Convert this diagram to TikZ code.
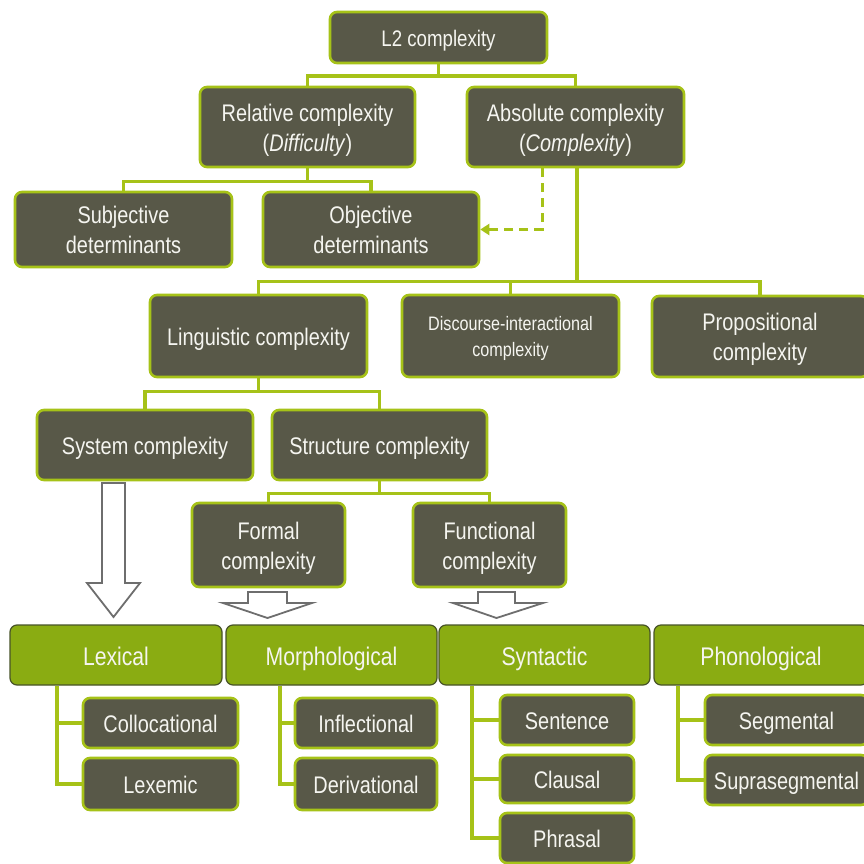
\documentclass[tikz,border=0pt]{standalone}
\usepackage{fontspec}
\newfontfamily\nf{Liberation Sans}[FakeStretch=0.83]
\usetikzlibrary{arrows.meta}
\definecolor{darkbox}{RGB}{88,88,72}
\definecolor{lime}{RGB}{166,194,24}
\definecolor{greenbox}{RGB}{138,172,18}
\definecolor{greenedge}{RGB}{72,84,40}
\definecolor{arrgray}{RGB}{110,110,110}
\definecolor{txt}{RGB}{245,245,240}
\newcommand{\topstrut}{\rule{0pt}{1.07em}}
\newcommand{\botstrut}{\rule[-0.28em]{0pt}{0.28em}}
\newcommand{\bx}[7]{\node[#6, minimum width={#4-#2}, minimum height={#5-#3}] (#1) at ({(#2+#4)/2},{(#3+#5)/2}) {\topstrut#7\botstrut};}
\tikzset{
  dbox/.style={draw=lime, line width=2.6pt, fill=darkbox, rounded corners=7pt, text=txt, align=center, inner sep=0pt, font=\nf\fontsize{24}{30}\selectfont},
  gbox/.style={draw=greenedge, line width=1.2pt, fill=greenbox, rounded corners=7pt, text=txt, align=center, inner sep=0pt, font=\nf\fontsize{25.5}{30}\selectfont},
  conn/.style={draw=lime, line width=3.6pt},
  dasharr/.style={draw=lime, line width=3pt, dash pattern=on 9pt off 6pt, -{Triangle[length=9pt,width=11pt]}},
  blockarr/.style={draw=arrgray, line width=1.8pt, fill=white, line join=miter}
}
\begin{document}
\begin{tikzpicture}[x=1pt,y=-1pt]
\useasboundingbox[fill=white] (0,0) rectangle (864,864);
% boxes
\bx{L2}{330}{12}{547}{63}{dbox,font=\nf\fontsize{22.5}{28}\selectfont}{L2 complexity}
\bx{rel}{200}{87}{415}{167}{dbox}{Relative complexity\\(\textit{Difficulty})}
\bx{abs}{467}{87}{684}{167}{dbox}{Absolute complexity\\(\textit{Complexity})}
\bx{sub}{15}{192}{232}{267}{dbox}{Subjective\\determinants}
\bx{obj}{263}{192}{479}{267}{dbox}{Objective\\determinants}
\bx{ling}{150}{295}{367}{377}{dbox}{Linguistic complexity}
\bx{disc}{402}{295}{619}{377}{dbox,font=\nf\fontsize{19.5}{26}\selectfont}{Discourse-interactional\\complexity}
\bx{prop}{652}{296}{868}{377}{dbox}{Propositional\\complexity}
\bx{sys}{37}{410}{253}{480}{dbox}{System complexity}
\bx{str}{272}{410}{487}{480}{dbox}{Structure complexity}
\bx{form}{192}{503}{345}{587}{dbox}{Formal\\complexity}
\bx{func}{413}{503}{566}{587}{dbox}{Functional\\complexity}
\bx{lex}{10}{625}{222}{685}{gbox}{Lexical}
\bx{mor}{226}{625}{437}{685}{gbox}{Morphological}
\bx{syn}{439}{625}{650}{685}{gbox}{Syntactic}
\bx{pho}{654}{625}{868}{685}{gbox}{Phonological}
\bx{coll}{83}{698}{238}{748}{dbox}{Collocational}
\bx{lexm}{83}{758}{238}{810}{dbox}{Lexemic}
\bx{infl}{295}{698}{437}{748}{dbox}{Inflectional}
\bx{deri}{295}{758}{437}{810}{dbox}{Derivational}
\bx{sent}{500}{695}{634}{745}{dbox}{Sentence}
\bx{clau}{500}{755}{634}{803}{dbox}{Clausal}
\bx{phra}{500}{813}{634}{863}{dbox}{Phrasal}
\bx{segm}{705}{695}{868}{745}{dbox}{Segmental}
\bx{supr}{705}{755}{868}{805}{dbox}{Suprasegmental}
% tree connectors
\draw[conn] (L2.south) -- ++(0,12) coordinate (j1);
\draw[conn] (rel.north) |- (j1) -| (abs.north);
\draw[conn] (rel.south) -- ++(0,13) coordinate (j2);
\draw[conn] (sub.north) |- (j2) -| (obj.north);
\draw[conn] ([xshift=1.5pt]abs.south) -- ++(0,113) coordinate (j3);
\draw[conn] (ling.north) |- (j3) -| (prop.north);
\draw[conn] (disc.north) -- (disc.north |- j3);
\draw[conn] (ling.south) -- ++(0,13) coordinate (j4);
\draw[conn] (sys.north) |- (j4) -| (str.north);
\draw[conn] (str.south) -- ++(0,12) coordinate (j5);
\draw[conn] (form.north) |- (j5) -| (func.north);
% dashed arrow
\draw[dasharr] ([xshift=-33.5pt]abs.south) |- (obj.east);
% child connectors
\coordinate (lv) at ([xshift=-59pt]lex.south);
\draw[conn] (lv) |- (lexm.west);
\draw[conn] (coll.west) -- (coll.west -| lv);
\coordinate (mv) at ([xshift=-51.5pt]mor.south);
\draw[conn] (mv) |- (deri.west);
\draw[conn] (infl.west) -- (infl.west -| mv);
\coordinate (sv) at ([xshift=-72.5pt]syn.south);
\draw[conn] (sv) |- (phra.west);
\draw[conn] (sent.west) -- (sent.west -| sv);
\draw[conn] (clau.west) -- (clau.west -| sv);
\coordinate (pv) at ([xshift=-83pt]pho.south);
\draw[conn] (pv) |- (supr.west);
\draw[conn] (segm.west) -- (segm.west -| pv);
% block arrows
\draw[blockarr] (102,483) -- (125,483) -- (125,583) -- (140,583) -- (113.5,617) -- (87,583) -- (102,583) -- cycle;
\draw[blockarr] (248,592) -- (287,592) -- (287,603) -- (312,603) -- (267.5,618) -- (223,603) -- (248,603) -- cycle;
\draw[blockarr] (478,592) -- (515,592) -- (515,603) -- (543,603) -- (496.5,618) -- (453,603) -- (478,603) -- cycle;
\end{tikzpicture}
\end{document}
